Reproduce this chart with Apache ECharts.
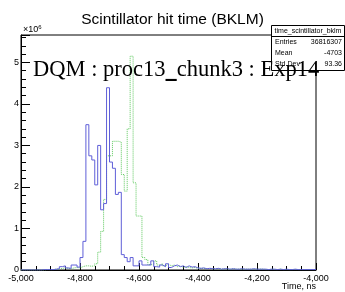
<!DOCTYPE html>
<html>
<head>
<meta charset="utf-8">
<script src="https://cdn.jsdelivr.net/npm/echarts@6/dist/echarts.min.js"></script>
<style>
  html, body { margin: 0; padding: 0; background: #fff; }
  #chart { width: 345px; height: 292px; }
</style>
</head>
<body>
<div id="chart"></div>
<script>
// histogram binning: 100 bins from -5000 to -4000 ns
const binStart = -5000
const binWidth = 10

// bin contents in units of 1e6 hits
const blueValues = [
  0, 0, 0, 0, 0, 0, 0, 0.01, 0.01, 0.01,
  0.01, 0.02, 0.03, 0.08, 0.10, 0.05, 0.04, 0.12, 0.12, 0.07,
  0.30, 0.69, 3.50, 2.75, 2.65, 2.05, 3.00, 1.45, 1.60, 4.39,
  2.60, 2.45, 1.82, 1.87, 0.37, 0.30, 0.20, 0.30, 0.10, 0.10,
  0.22, 0.12, 0.12, 0.12, 0.22, 0.08, 0.07, 0.12, 0.08, 0.15,
  0.06, 0.10, 0.12, 0.08, 0.10, 0.06, 0.10, 0.07, 0.08, 0.05,
  0.04, 0.05, 0.03, 0.04, 0.03, 0.03, 0.04, 0.02, 0.03, 0.03,
  0.02, 0.03, 0.02, 0.02, 0.03, 0.02, 0.02, 0.02, 0.03, 0.02,
  0.02, 0.02, 0.02, 0.01, 0.02, 0.02, 0.01, 0.02, 0.01, 0.02,
  0.01, 0.01, 0.02, 0.01, 0.01, 0.01, 0.01, 0.01, 0.01, 0.01
]
const greenValues = [
  0, 0, 0, 0, 0, 0, 0, 0, 0.01, 0.01,
  0.01, 0.02, 0.02, 0.04, 0.05, 0.04, 0.03, 0.05, 0.06, 0.05,
  0.08, 0.10, 0.10, 0.09, 0.10, 0.15, 0.43, 0.93, 1.70, 2.75,
  2.75, 3.10, 3.10, 3.08, 2.30, 1.90, 3.40, 5.15, 2.10, 1.30,
  1.30, 0.30, 0.25, 0.13, 0.12, 0.22, 0.12, 0.15, 0.10, 0.14,
  0.10, 0.12, 0.08, 0.10, 0.06, 0.08, 0.06, 0.05, 0.06, 0.04,
  0.04, 0.04, 0.03, 0.04, 0.03, 0.03, 0.03, 0.02, 0.03, 0.02,
  0.02, 0.03, 0.02, 0.02, 0.02, 0.02, 0.02, 0.02, 0.02, 0.02,
  0.02, 0.02, 0.01, 0.01, 0.02, 0.01, 0.01, 0.02, 0.01, 0.01,
  0.01, 0.01, 0.01, 0.01, 0.01, 0.01, 0.01, 0.01, 0.01, 0.01
]

const statsName = 'time_scintillator_bklm'
const statsLabels = ['Entries', 'Mean', 'Std Dev']
const statsValues = ['36816307', '-4703', '93.36']

// bin left edges + closing point so step:'end' draws the last bin too
function toSteps (vals) {
  const pts = vals.map((v, i) => [binStart + i * binWidth, v])
  pts.push([binStart + vals.length * binWidth, vals[vals.length - 1]])
  return pts
}

const font = 'Liberation Sans, Arial, sans-serif'
const chart = echarts.init(document.getElementById('chart'))

const statsBox = [
  { type: 'rect', shape: { x: 271.5, y: 25.5, width: 73, height: 45 }, style: { fill: '#fff', stroke: '#000', lineWidth: 1 }, z: 10 },
  { type: 'line', shape: { x1: 271.5, y1: 36.5, x2: 344.5, y2: 36.5 }, style: { stroke: '#000', lineWidth: 1 }, z: 11 },
  { type: 'text', x: 308, y: 31.5, style: { text: statsName, font: '7px ' + font, fill: '#000', align: 'center', verticalAlign: 'middle' }, z: 11 }
]
statsLabels.forEach((label, i) => {
  statsBox.push({ type: 'text', x: 275, y: 42.5 + i * 11, style: { text: label, font: '7px ' + font, fill: '#000', align: 'left', verticalAlign: 'middle' }, z: 11 })
  statsBox.push({ type: 'text', x: 342, y: 42.5 + i * 11, style: { text: statsValues[i], font: '7px ' + font, fill: '#000', align: 'right', verticalAlign: 'middle' }, z: 11 })
})

const option = {
  animation: false,
  title: {
    text: 'Scintillator hit time (BKLM)',
    left: 'center',
    top: 7,
    textStyle: { fontFamily: font, fontSize: 15.5, fontWeight: 'normal', color: '#000' }
  },
  grid: {
    left: 21, right: 29, top: 35, bottom: 22,
    show: true, borderColor: '#000', borderWidth: 1, backgroundColor: 'transparent'
  },
  xAxis: {
    type: 'value',
    min: -5000,
    max: -4000,
    interval: 200,
    axisLine: { lineStyle: { color: '#000', width: 1 } },
    axisTick: { inside: true, length: 7, lineStyle: { color: '#000' } },
    minorTick: { show: true, splitNumber: 4, length: 4, lineStyle: { color: '#000' } },
    splitLine: { show: false },
    axisLabel: { fontFamily: font, fontSize: 9, color: '#000', margin: 4 }
  },
  yAxis: {
    type: 'value',
    min: 0,
    max: 5.66,
    interval: 1,
    axisLine: { show: true, lineStyle: { color: '#000', width: 1 } },
    axisTick: { show: true, inside: true, length: 9, lineStyle: { color: '#000' } },
    minorTick: { show: true, splitNumber: 5, length: 5, lineStyle: { color: '#000' } },
    splitLine: { show: false },
    axisLabel: {
      fontFamily: font, fontSize: 9, color: '#000', margin: 2,
      formatter: v => (Number.isInteger(v) ? String(v) : '')
    }
  },
  series: [
    {
      type: 'line', step: 'end', symbol: 'none',
      data: toSteps(greenValues),
      lineStyle: { color: '#5ec85e', width: 1, type: 'dotted' }
    },
    {
      type: 'line', step: 'end', symbol: 'none',
      data: toSteps(blueValues),
      lineStyle: { color: '#5f5fd8', width: 1 }
    }
  ],
  graphic: [
    {
      type: 'text', x: 23, y: 30,
      style: {
        text: '×10{s|6}',
        font: '9px ' + font,
        fill: '#000',
        verticalAlign: 'middle',
        rich: { s: { fontSize: 6, verticalAlign: 'top', padding: [0, 0, 6, 0] } }
      }
    },
    {
      type: 'text', x: 316, y: 287,
      style: { text: 'Time, ns', font: '9px ' + font, fill: '#000', align: 'right', verticalAlign: 'middle' }
    },
    ...statsBox,
    {
      type: 'text', x: 33, y: 70.5, z: 20,
      style: {
        text: 'DQM : proc13{u|_}chunk3 : Exp14',
        font: '22.5px Liberation Serif, DejaVu Serif, serif',
        fill: '#000',
        verticalAlign: 'middle',
        rich: {
          u: { fontSize: 22.5, fontFamily: 'DejaVu Serif', fontWeight: 'bold' }
        }
      }
    }
  ]
}
chart.setOption(option)
</script>
</body>
</html>
